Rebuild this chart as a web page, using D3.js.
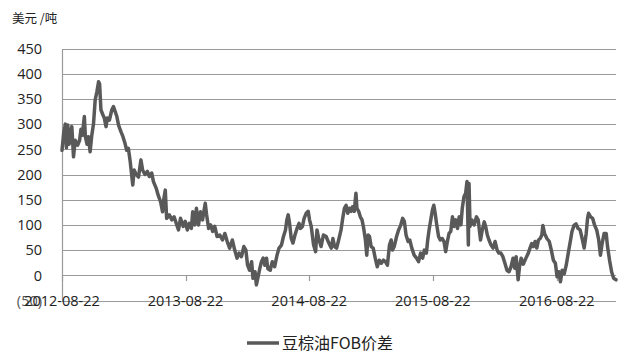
<!DOCTYPE html>
<html><head><meta charset="utf-8">
<script src="https://cdn.jsdelivr.net/npm/d3@7/dist/d3.min.js"></script>
<style>
html,body{margin:0;padding:0;background:#fff;}
svg text{font-family:"Open Sans","Noto Sans CJK SC",sans-serif;fill:#222;}
</style></head>
<body><svg id="c" width="637" height="363"></svg>
<script>
const seriesName = "豆棕油FOB价差";
const unitLabel = "美元 /吨";
const yTicks = [-50,0,50,100,150,200,250,300,350,400,450];
const yTickLabels = ["(50)","0","50","100","150","200","250","300","350","400","450"];
const xTickDates = ["2012-08-22","2013-08-22","2014-08-22","2015-08-22","2016-08-22"];
const dates = [
"2012-08-22","2012-08-27","2012-09-01","2012-09-04","2012-09-08","2012-09-12","2012-09-15","2012-09-20","2012-09-25","2012-09-30",
"2012-10-07","2012-10-13","2012-10-17","2012-10-21","2012-10-27","2012-10-30","2012-11-04","2012-11-08","2012-11-13","2012-11-18",
"2012-11-23","2012-11-28","2012-12-03","2012-12-08","2012-12-11","2012-12-15","2012-12-21","2012-12-25","2012-12-30","2013-01-03",
"2013-01-09","2013-01-16","2013-01-21","2013-01-26","2013-01-31","2013-02-05","2013-02-12","2013-02-18","2013-02-24","2013-03-01",
"2013-03-06","2013-03-11","2013-03-19","2013-03-23","2013-03-29","2013-04-05","2013-04-12","2013-04-17","2013-04-24","2013-05-01",
"2013-05-07","2013-05-14","2013-05-19","2013-05-27","2013-06-02","2013-06-09","2013-06-15","2013-06-19","2013-06-23","2013-06-27",
"2013-07-05","2013-07-12","2013-07-19","2013-07-27","2013-08-01","2013-08-07","2013-08-15","2013-08-21","2013-08-27","2013-09-02",
"2013-09-08","2013-09-12","2013-09-18","2013-09-23","2013-09-29","2013-10-05","2013-10-11","2013-10-19","2013-10-23","2013-10-29",
"2013-11-04","2013-11-10","2013-11-16","2013-11-23","2013-12-01","2013-12-09","2013-12-16","2013-12-23","2013-12-30","2014-01-07",
"2014-01-14","2014-01-21","2014-01-27","2014-02-03","2014-02-10","2014-02-16","2014-02-21","2014-02-27","2014-03-05","2014-03-09",
"2014-03-15","2014-03-19","2014-03-24","2014-03-29","2014-04-03","2014-04-08","2014-04-13","2014-04-18","2014-04-22","2014-04-29",
"2014-05-05","2014-05-12","2014-05-19","2014-05-25","2014-06-01","2014-06-07","2014-06-13","2014-06-17","2014-06-21","2014-06-25",
"2014-06-30","2014-07-05","2014-07-11","2014-07-17","2014-07-23","2014-07-27","2014-08-02","2014-08-07","2014-08-13","2014-08-19",
"2014-08-23","2014-08-28","2014-09-04","2014-09-10","2014-09-14","2014-09-19","2014-09-26","2014-10-03","2014-10-11","2014-10-19",
"2014-10-26","2014-10-31","2014-11-05","2014-11-11","2014-11-17","2014-11-24","2014-11-29","2014-12-04","2014-12-09","2014-12-14",
"2014-12-19","2014-12-24","2014-12-28","2015-01-02","2015-01-07","2015-01-10","2015-01-15","2015-01-20","2015-01-25","2015-01-30",
"2015-02-04","2015-02-08","2015-02-12","2015-02-16","2015-02-21","2015-02-27","2015-03-05","2015-03-11","2015-03-17","2015-03-23",
"2015-03-29","2015-04-04","2015-04-10","2015-04-16","2015-04-21","2015-04-25","2015-04-30","2015-05-07","2015-05-13","2015-05-19",
"2015-05-25","2015-05-30","2015-06-04","2015-06-10","2015-06-15","2015-06-21","2015-06-28","2015-07-05","2015-07-11","2015-07-17",
"2015-07-23","2015-07-28","2015-08-03","2015-08-07","2015-08-11","2015-08-16","2015-08-21","2015-08-25","2015-08-29","2015-09-02",
"2015-09-08","2015-09-13","2015-09-19","2015-09-24","2015-09-29","2015-10-04","2015-10-09","2015-10-14","2015-10-19","2015-10-24",
"2015-10-29","2015-11-03","2015-11-08","2015-11-13","2015-11-17","2015-11-22","2015-11-27","2015-12-01","2015-12-05","2015-12-07",
"2015-12-10","2015-12-15","2015-12-22","2015-12-29","2016-01-03","2016-01-10","2016-01-15","2016-01-21","2016-01-25","2016-01-30",
"2016-02-04","2016-02-10","2016-02-16","2016-02-22","2016-02-28","2016-03-04","2016-03-10","2016-03-16","2016-03-22","2016-03-28",
"2016-04-03","2016-04-09","2016-04-15","2016-04-20","2016-04-24","2016-04-30","2016-05-04","2016-05-09","2016-05-15","2016-05-25",
"2016-05-30","2016-06-04","2016-06-09","2016-06-14","2016-06-19","2016-06-24","2016-06-29","2016-07-04","2016-07-09","2016-07-12",
"2016-07-17","2016-07-24","2016-07-31","2016-08-06","2016-08-12","2016-08-18","2016-08-23","2016-08-28","2016-09-02","2016-09-07",
"2016-09-13","2016-09-19","2016-09-25","2016-10-01","2016-10-06","2016-10-12","2016-10-18","2016-10-24","2016-10-30","2016-11-05",
"2016-11-11","2016-11-17","2016-11-21","2016-11-24","2016-11-30","2016-12-06","2016-12-12","2016-12-18","2016-12-24","2016-12-29",
"2017-01-03","2017-01-09","2017-01-15","2017-01-19","2017-01-25","2017-01-31","2017-02-06","2017-02-13"
];
const values = [
248,282,300,253,298,260,275,295,235,268,
258,268,290,278,315,275,260,275,245,278,
300,348,364,384,380,328,318,312,295,312,
308,328,335,325,315,298,285,275,262,248,
252,228,179,209,200,195,229,209,200,206,
196,203,186,173,159,146,126,153,169,113,
120,110,116,100,90,113,97,107,90,103,
93,126,100,133,100,126,110,143,120,93,
100,87,97,77,80,70,83,67,54,70,
50,34,44,37,57,50,20,10,27,-6,
7,-19,-3,13,27,34,20,34,13,10,
27,17,40,54,60,77,90,110,120,103,
73,64,80,93,103,93,97,113,123,127,
110,97,60,47,90,73,57,80,77,64,
54,73,57,54,70,90,113,133,139,123,
133,127,136,127,163,133,127,116,110,93,
70,40,80,77,57,54,34,17,30,24,
30,27,20,60,70,50,57,77,90,99,
113,107,80,67,70,54,40,34,27,44,
34,50,44,70,90,110,130,139,123,103,
77,70,73,67,47,67,83,87,116,97,
110,93,116,100,133,156,163,186,60,182,
97,110,100,116,110,70,90,106,97,80,
70,60,54,67,50,44,44,37,24,10,
7,17,34,14,37,-9,17,34,22,37,
44,54,63,57,67,54,70,73,80,99,
83,73,67,50,30,24,-3,7,-13,10,
3,20,44,67,87,99,102,93,90,73,
54,83,113,123,116,113,99,90,70,40,
63,83,83,57,30,7,-6,-9
];

const parse = d3.timeParse("%Y-%m-%d");
const data = dates.map((d,i)=>({date:parse(d), value:values[i]}));

const svg = d3.select("#c");
const plotL = 62, plotR = 616, plotT = 48.5, plotB = 300.5;

const x = d3.scaleTime()
  .domain([parse(dates[0]), parse(dates[dates.length-1])])
  .range([plotL, plotR]);
const y = d3.scaleLinear().domain([-50,450]).range([plotB, plotT]);

// gridlines
svg.append("g").selectAll("line").data(yTicks).join("line")
  .attr("x1", plotL).attr("x2", plotR)
  .attr("y1", d=>Math.round(y(d))+0.5).attr("y2", d=>Math.round(y(d))+0.5)
  .attr("stroke", "#9a9a9a").attr("stroke-width", 1.2);

// vertical axis line
svg.append("line").attr("x1", plotL+0.5).attr("x2", plotL+0.5)
  .attr("y1", Math.round(y(450))).attr("y2", Math.round(y(-50))+1)
  .attr("stroke", "#9a9a9a").attr("stroke-width", 1.2);

// y tick labels
svg.append("g").selectAll("text").data(yTicks).join("text")
  .attr("x", 42).attr("y", d=>y(d)).attr("dy", "0.36em")
  .attr("text-anchor", "end").attr("font-size", 14.5)
  .style("fill", (d,i)=> i===0 ? "#555" : "#222")
  .text((d,i)=>yTickLabels[i]);

// x ticks at zero line
const y0 = Math.round(y(0));
svg.append("g").selectAll("line").data(xTickDates).join("line")
  .attr("x1", d=>Math.round(x(parse(d)))+0.5).attr("x2", d=>Math.round(x(parse(d)))+0.5)
  .attr("y1", y0).attr("y2", y0+6)
  .attr("stroke", "#9a9a9a").attr("stroke-width", 1.2);

// x labels
svg.append("g").selectAll("text").data(xTickDates).join("text")
  .attr("x", d=>x(parse(d))).attr("y", y(-50)).attr("dy", "0.36em")
  .attr("text-anchor", "middle").attr("font-size", 14.5)
  .text(d=>d);

// series line
const line = d3.line().x(d=>x(d.date)).y(d=>y(d.value));
svg.append("path").datum(data)
  .attr("d", line).attr("fill", "none")
  .attr("stroke", "#595959").attr("stroke-width", 3.5)
  .attr("stroke-linejoin", "round").attr("stroke-linecap", "round");

// unit label
svg.append("text").attr("x", 12).attr("y", 23)
  .attr("font-size", 12.5).style("font-family", '"Noto Sans CJK SC",sans-serif')
  .text(unitLabel);

// legend
svg.append("line").attr("x1", 247).attr("x2", 279).attr("y1", 343).attr("y2", 343)
  .attr("stroke", "#595959").attr("stroke-width", 3.5);
svg.append("text").attr("x", 282).attr("y", 343).attr("dy", "0.36em")
  .attr("font-size", 16).style("font-family", '"Noto Sans CJK SC",sans-serif')
  .text(seriesName);
</script></body></html>
